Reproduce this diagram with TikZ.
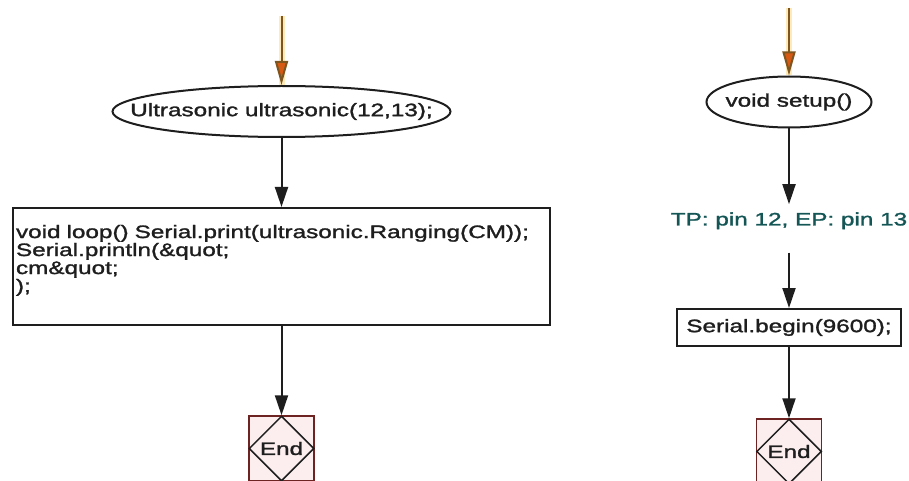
\documentclass[tikz,border=0pt]{standalone}
\usepackage{fontspec}
\setmainfont[FakeStretch=1.35,FakeBold=1.5]{Liberation Sans}
\usepackage{tikz}
\usetikzlibrary{arrows.meta,positioning,shapes.geometric}
\usepackage{xcolor}
\definecolor{inkgray}{RGB}{30,30,30}
\definecolor{pinteal}{RGB}{20,85,85}
\definecolor{entryline}{RGB}{125,85,30}
\definecolor{entryhead}{RGB}{215,90,20}
\definecolor{entryglow}{RGB}{255,200,60}
\definecolor{endframe}{RGB}{110,35,35}
\definecolor{endfill}{RGB}{252,238,238}
\newcommand{\codefont}{\fontsize{18}{18}\selectfont}
\tikzset{
  % ---- blocks -----------------------------------------------------------
  term/.style={
    ellipse, draw=inkgray, line width=2pt, fill=white, text=inkgray,
    font=\codefont, inner sep=0pt, minimum height=51pt},
  stmt/.style={
    draw=inkgray, line width=2pt, fill=white, text=inkgray,
    font=\codefont, align=center, inner sep=3pt},
  pinnote/.style={font=\codefont, text=pinteal, inner xsep=0pt, inner ysep=8pt},
  % end marker: framed square with a diamond inside
  endsq/.style={
    draw=endframe, line width=1.5pt, fill=endfill, minimum size=65pt, inner sep=0pt},
  enddia/.style={
    diamond, draw=inkgray, line width=1.5pt, minimum width=65pt, minimum height=65pt,
    inner sep=0pt, font=\codefont, text=inkgray},
  % ---- arrows -----------------------------------------------------------
  ar/.style={-{Triangle[length=20pt,width=13pt]}, draw=inkgray, line width=2pt},
  arin/.style={-{Triangle[length=24pt,width=13pt,fill=entryhead]}, draw=entryline,
    line width=2pt,
    preaction={draw=entryglow, draw opacity=0.35, line width=6pt, -}},
}

\begin{document}
\begin{tikzpicture}[x=1pt,y=-1pt]

\useasboundingbox (0,0) rectangle (909,481);
\fill[white] (0,0) rectangle (909,481);

% ============================ LEFT: loop ==================================
\coordinate (ltop) at (281.5,16);
\node[term, minimum width=338pt] (ultra) at (281.5,111.5)
  {\makebox[0pt]{Ultrasonic ultrasonic(12,13);}};
\node[stmt, align=left, text width=531pt, inner ysep=17pt, text depth=70pt] (loop)
  at (281.5,266.5)
  {void loop() Serial.print(ultrasonic.Ranging(CM));\\
   Serial.println(\&quot;\\
   cm\&quot;\\
   );};
\node[endsq] (lendsq) at (281.5,448.5) {};
\node[enddia] (lend) at (281.5,448.5) {End};

% ============================ RIGHT: setup ================================
\coordinate (rtop) at (789,8);
\node[term, minimum width=165pt] (setup) at (789,102)
  {\makebox[0pt]{void setup()}};
\node[pinnote, text depth=19pt] (pins) at (789,228.4) {TP: pin 12, EP: pin 13};
\node[stmt, minimum width=224pt, minimum height=37pt] (begin) at (789,327.5)
  {Serial.begin(9600);};
\node[endsq] (rendsq) at (789,451.5) {};
\node[enddia] (rend) at (789,451.5) {End};

% connectors
\draw[arin] (ltop) -- (ultra.north);
\draw[arin] (rtop) -- (setup.north);
\foreach \a/\b in {ultra/loop,loop/lend,setup/pins,pins/begin,begin/rend}
  { \draw[ar] (\a.south) -- (\b.north); }

\end{tikzpicture}
\end{document}
